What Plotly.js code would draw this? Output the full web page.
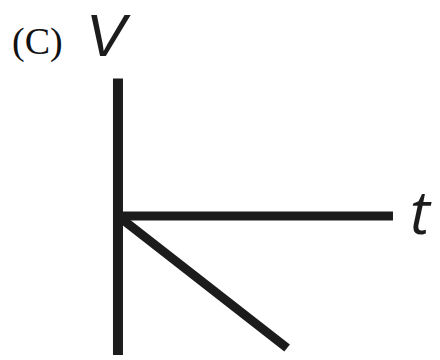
<!DOCTYPE html>
<html>
<head>
<meta charset="utf-8">
<script src="https://cdn.plot.ly/plotly-3.0.1.min.js"></script>
<style>html,body{margin:0;padding:0;background:#fff;}#chart{width:440px;height:360px;}</style>
</head>
<body>
<div id="chart"></div>
<script>
// Axis extents (arbitrary units) and the plotted line V(t)
const tAxisT = [0, 10];
const tAxisV = [0, 0];
const vAxisT = [0, 0];
const vAxisV = [-5.05, 5.0];
const lineT = [0, 6.15];
const lineV = [0, -4.8];
const panelLabel = "(C)";
const vLabel = "V";
const tLabel = "t";

const col = "#1c1c1c";
const traces = [
  {x: vAxisT, y: vAxisV, mode: "lines", line: {color: col, width: 10}, hoverinfo: "skip"},
  {x: tAxisT, y: tAxisV, mode: "lines", line: {color: col, width: 9}, hoverinfo: "skip"},
  {x: lineT, y: lineV, mode: "lines", line: {color: col, width: 9}, hoverinfo: "skip"}
];
const layout = {
  width: 440, height: 360,
  margin: {l: 0, r: 0, t: 0, b: 0},
  paper_bgcolor: "#fff", plot_bgcolor: "#fff",
  showlegend: false,
  xaxis: {range: [-4.29, 11.71], visible: false, fixedrange: true},
  yaxis: {range: [-5.236, 7.855], visible: false, fixedrange: true},
  annotations: [
    {text: panelLabel, xref: "paper", yref: "paper", x: 10/440, y: 1 - 41/360, xanchor: "left", yanchor: "middle",
     showarrow: false, font: {family: "Liberation Serif", size: 38, color: "#111"}},
    {text: "<i>" + vLabel + "</i>", xref: "x", yref: "paper", x: -0.36, y: 1, xanchor: "center", yanchor: "top",
     showarrow: false, font: {family: "Liberation Sans", size: 60, color: col}},
    {text: "<i>" + tLabel + "</i>", xref: "x", yref: "y", x: 10.55, y: 0.2, xanchor: "left", yanchor: "middle",
     showarrow: false, font: {family: "Open Sans", size: 60, color: col}}
  ]
};
Plotly.newPlot("chart", traces, layout, {staticPlot: true, displayModeBar: false});
</script>
</body>
</html>
